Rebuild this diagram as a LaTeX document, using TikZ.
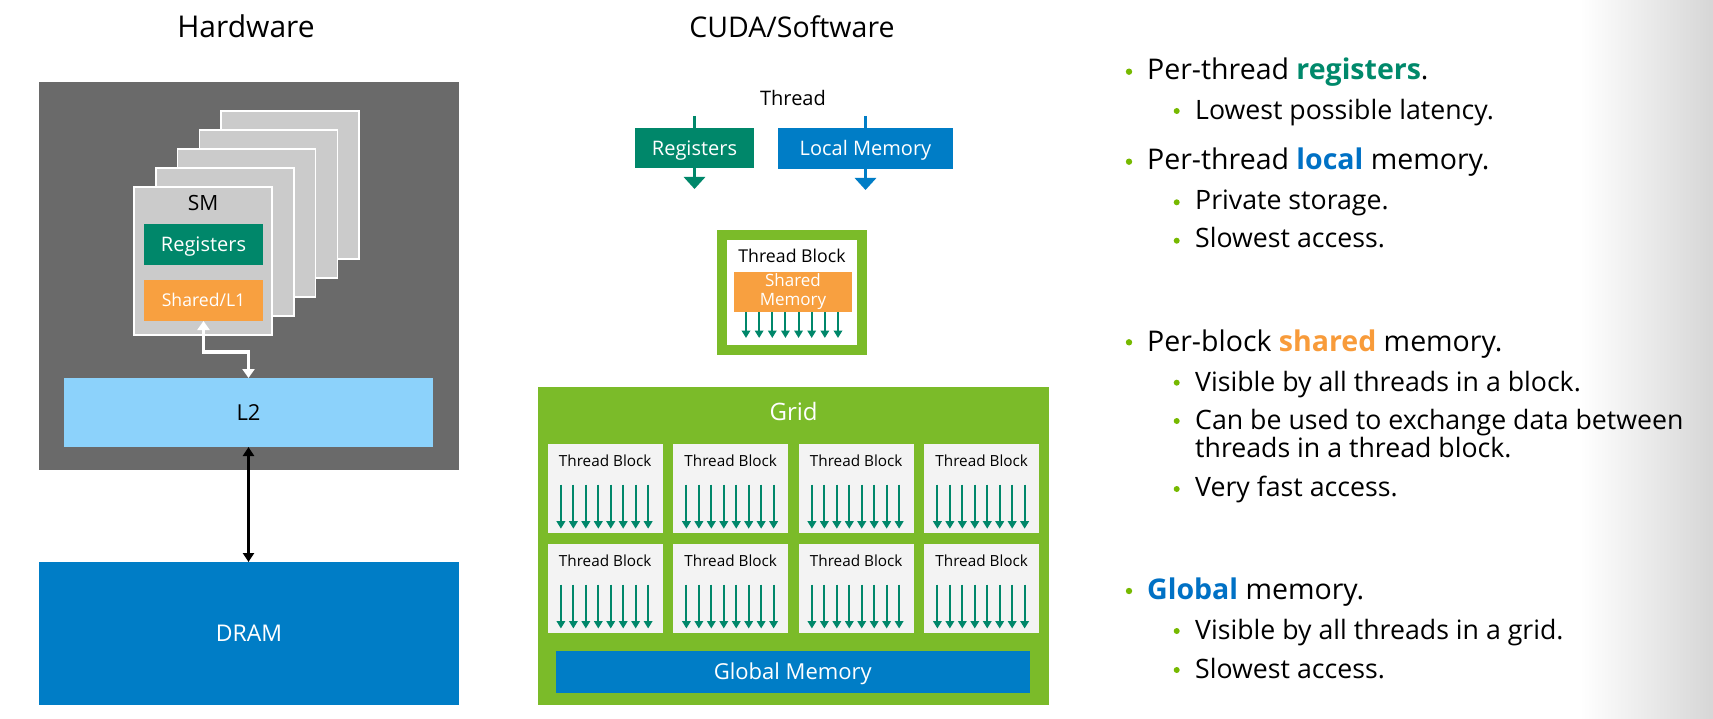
\documentclass[tikz,border=0pt]{standalone}
\usepackage{fontspec}
\setmainfont{Open Sans}
\usetikzlibrary{arrows.meta,calc}

\definecolor{nvteal}{HTML}{00876A}
\definecolor{nvorange}{HTML}{F8A040}
\definecolor{nvsky}{HTML}{8CD2FB}
\definecolor{nvblue}{HTML}{007DC6}
\definecolor{nvgreen}{HTML}{7BBB29}
\definecolor{nvbullet}{HTML}{76B900}
\definecolor{hwgray}{HTML}{6A6A6A}
\definecolor{smgray}{HTML}{CBCBCB}
\definecolor{tbgray}{HTML}{F3F3F3}
\definecolor{txtblue}{HTML}{0071C5}
\definecolor{txtteal}{HTML}{00896B}
\definecolor{txtorange}{HTML}{F89B3A}

\newcommand{\fs}[1]{\fontsize{#1}{#1}\selectfont}

\tikzset{
    size/.style 2 args={minimum width=#1pt, minimum height=#2pt},
    box/.style={inner sep=0pt, outer sep=0pt},
    fsz/.style={font=\fs{#1}, text height=#1*0.72pt, text depth=0pt},
    smcard/.style={fill=smgray, draw=white, line width=1.5pt, size={138}{148}},
    wlink/.style={white, line width=3.5pt, {Triangle[width=12pt,length=9pt]}-{Triangle[width=12pt,length=9pt]}},
    blink/.style={black, line width=2.5pt, {Triangle[width=11pt,length=9pt]}-{Triangle[width=11pt,length=9pt]}},
    tflow/.style={line width=3pt, -{Triangle[width=21pt,length=12pt]}},
    tarrow/.style={nvteal, line width=2pt, -{Triangle[width=8.5pt,length=7.5pt]}},
    item/.style={anchor=base west, inner sep=0pt, font=\fs{28.5}},
    subitem/.style={anchor=base west, inner sep=0pt, font=\fs{26.7}},
}

\begin{document}
\begin{tikzpicture}[x=1pt, y=-1pt]
    \path[fill=white, use as bounding box] (0,0) rectangle (1713,719);
    \shade[left color=white, right color=gray!32] (1580,0) rectangle (1713,719);

    \node[anchor=base, box, font=\fs{30}] (hwtitle) at (246,38) {Hardware};
    \node[anchor=base, box, font=\fs{28.5}] (swtitle) at (792,38) {CUDA/Software};

    \node[box, fill=hwgray, size={420}{388}] (hwbox) at (249,276) {};
    \foreach \i in {4,3,2,1}
        \node[smcard] (sm\i) at ({203+21.75*\i},{261-19*\i}) {};
    \node[smcard] (sm0) at (203,261) {};
    \node[box, fsz=21] (smlabel) at (203,203) {SM};
    \node[box, fill=nvteal, text=white, size={119}{41}, fsz=20] (hwreg) at (203.5,244.5) {Registers};
    \node[box, fill=nvorange, text=white, size={119}{41}, fsz=17.6] (hwshared) at (203.5,300.5) {Shared/L1};
    \node[box, fill=nvsky, size={369}{69}, fsz=22] (l2) at (248.5,412.5) {L2};
    \node[box, fill=nvblue, text=white, size={420}{143}, fsz=23] (dram) at (249,633.5) {DRAM};
    \draw[wlink] (hwshared.south) -- ++(0,31) -| (l2.north);
    \draw[blink] (l2.south) -- (l2.south |- dram.north);

    \node[box, fsz=20] (thread) at (793,98) {Thread};
    \coordinate (regin) at (694.5,116);
    \coordinate (regout) at (694.5,189);
    \coordinate (locin) at (865.5,116);
    \coordinate (locout) at (865.5,190);
    \draw[tflow, nvteal] (regin) -- (regout);
    \draw[tflow, nvblue] (locin) -- (locout);
    \node[box, fill=nvteal, text=white, size={119}{40}, fsz=20] (treg) at (694.5,148) {Registers};
    \node[box, fill=nvblue, text=white, size={175}{41}, fsz=20] (tlocal) at (865.5,148.5) {Local Memory};

    \node[box, draw=nvgreen, line width=10pt, fill=white, size={140}{115}] (tblock) at (792,292.5) {};
    \node[box, fsz=17.7] (tblabel) at (792,256) {Thread Block};
    \node[box, fill=nvorange, text=white, size={118}{40}, align=center,
          font=\fontsize{17}{19}\selectfont] (tshared) at (793,292) {Shared\\Memory};
    \foreach \k in {0,...,7}
        \draw[tarrow] ($(tshared.south west)+(12+13.14*\k,0)$) -- ++(0,26);

    \node[box, fill=nvgreen, size={511}{318}] (grid) at (793.2,545.7) {};
    \node[box, text=white, fsz=24] (gridlabel) at (793.6,412) {Grid};
    \foreach \r in {0,1}
        \foreach \c in {0,...,3} {
            \node[box, fill=tbgray, size={115}{89}] (tb\r\c) at ({605.2+125.5*\c},{488.6+99.8*\r}) {};
            \node[box, fsz=15.3] (tbl\r\c) at ($(tb\r\c.north)+(0,16.6)$) {Thread Block};
            \foreach \k in {0,...,7}
                \draw[tarrow] ($(tb\r\c.north west)+(13.2+12.46*\k,40.6)$) -- ++(0,44);
        }
    \node[box, fill=nvblue, text=white, size={473.6}{42}, fsz=22] (global) at (792.8,672) {Global Memory};

    \foreach \y in {71.7,161.7,342.3,591}
        \fill[nvbullet] (1129,\y) circle (3.2);
    \foreach \y in {111,202.3,240.7,382.7,421,489,631,670}
        \fill[nvbullet] (1176.7,\y) circle (3);
    \node[item] (reg) at (1147,80) {Per-thread \textbf{\color{txtteal}registers}.};
    \node[item] (loc) at (1147,170) {Per-thread \textbf{\color{txtblue}local} memory.};
    \node[item] (shm) at (1147,351) {Per-block \textbf{\color{txtorange}shared} memory.};
    \node[item] (glb) at (1147,599.3) {\textbf{\color{txtblue}Global} memory.};
    \node[subitem] (reg1) at (1195,119.3) {Lowest possible latency.};
    \node[subitem] (loc1) at (1195,209.3) {Private storage.};
    \node[subitem] (loc2) at (1195,247.7) {Slowest access.};
    \node[subitem] (shm1) at (1195,391) {Visible by all threads in a block.};
    \node[subitem] (shm2) at (1195,429.3) {Can be used to exchange data between};
    \node[subitem] (shm2b) at (1195,457.7) {threads in a thread block.};
    \node[subitem] (shm3) at (1195,496.7) {Very fast access.};
    \node[subitem] (glb1) at (1195,639.3) {Visible by all threads in a grid.};
    \node[subitem] (glb2) at (1195,678.3) {Slowest access.};
\end{tikzpicture}
\end{document}
